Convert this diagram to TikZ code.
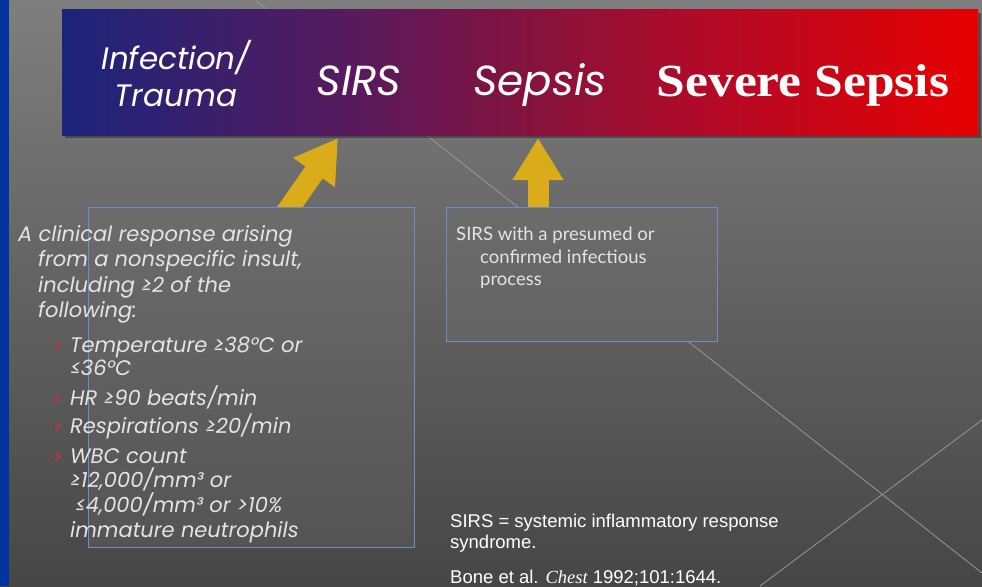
\documentclass[tikz,border=0pt]{standalone}
\usepackage{fontspec}
\usepackage{tikz}
\usetikzlibrary{arrows.meta}
\setmainfont{Liberation Sans}
\newfontfamily\gothic{Poppins}
\newfontfamily\gill{Lato}
\newfontfamily\dejavu{DejaVu Sans}
\newfontfamily\timesf{Liberation Serif}

\definecolor{bgtop}{RGB}{126,126,126}
\definecolor{bgbot}{RGB}{70,70,70}
\definecolor{stripblue}{RGB}{0,51,160}
\definecolor{bnavy}{RGB}{28,36,122}
\definecolor{bpurple}{RGB}{88,26,92}
\definecolor{bwine}{RGB}{135,18,60}
\definecolor{bcrim}{RGB}{178,10,40}
\definecolor{bred}{RGB}{230,0,0}
\definecolor{gold}{RGB}{218,172,26}
\definecolor{boxline}{RGB}{110,140,205}
\definecolor{bulletred}{RGB}{185,50,85}
\definecolor{txt}{RGB}{228,228,228}
\definecolor{diagline}{RGB}{152,152,152}
\definecolor{boxtop}{RGB}{108,108,108}
\definecolor{box1bot}{RGB}{84,84,84}
\definecolor{box2bot}{RGB}{99,99,99}

% tikz maps the path onto 25bp--75bp of the shading
\pgfdeclarehorizontalshading{bannershade}{100bp}{color(0bp)=(bnavy); color(25bp)=(bnavy);
  color(41bp)=(bpurple); color(51bp)=(bwine); color(60bp)=(bcrim);
  color(75bp)=(bred); color(100bp)=(bred)}

\tikzset{
  bgline/.style={draw=diagline, line width=0.8pt},
  bannertxt/.style={anchor=base, text=white, inner sep=0pt},
  deftxt/.style={anchor=base west, text=txt, inner sep=0pt,
    font=\gothic\itshape\fontsize{21}{24}\selectfont},
  bul/.style={anchor=base west, text=bulletred, inner sep=0pt,
    font=\dejavu\bfseries\fontsize{22}{22}\selectfont},
  sepsistxt/.style={anchor=base west, text=txt, inner sep=0pt,
    font=\gill\fontsize{18.5}{21}\selectfont},
  notetxt/.style={anchor=base west, text=white, inner sep=0pt,
    font=\fontsize{18.5}{21}\selectfont},
  defbox/.style={draw=boxline, line width=1pt, inner sep=0pt, top color=boxtop, bottom color=#1},
  goldarrow/.style={draw=gold, line width=21pt, -{Triangle[width=48pt,length=42pt]}}
}

\begin{document}
\begin{tikzpicture}[x=1pt, y=-1pt]
\useasboundingbox (0,0) rectangle (982,586);
% background
\shade[top color=bgtop, bottom color=bgbot] (0,0) rectangle (982,586);
\fill[stripblue] (0,0) rectangle (9,586);
\draw[bgline] (255,0) -- (982,573);
\draw[bgline] (982,420) -- (760,586);

% banner
\fill[black, opacity=0.35] (65,13) rectangle (981,138);
\shade[shading=bannershade] (62,10) rectangle (978,135);
\node[bannertxt, align=center, font=\gothic\itshape\fontsize{31}{36}\selectfont] (inf) at (176,106) {Infection/\\Trauma};
\node[bannertxt, font=\gothic\itshape\fontsize{42}{46}\selectfont] (sirs) at (359,95) {SIRS};
\node[bannertxt, font=\gothic\itshape\fontsize{42}{46}\selectfont] (sepsis) at (540,95) {Sepsis};
\node[bannertxt, xscale=1.12, font=\timesf\bfseries\fontsize{46}{48}\selectfont] (severe) at (803,96) {Severe Sepsis};

% arrows, their feet hidden by the boxes
\coordinate (a1s) at (283,217);
\coordinate (a1t) at (338,138);
\coordinate (a2s) at (538,217);
\coordinate (a2t) at (538,138);
\draw[goldarrow] (a1s) -- (a1t);
\draw[goldarrow] (a2s) -- (a2t);

% definition boxes
\node[defbox=box1bot, minimum width=326pt, minimum height=340pt] (box1) at (251,377) {};
\node[defbox=box2bot, minimum width=271pt, minimum height=134pt] (box2) at (581.5,274) {};

% SIRS criteria
\node[deftxt] (d1) at (18,241) {A clinical response arising};
\node[deftxt] (d2) at (38,266) {from a nonspecific insult,};
\node[deftxt] (d3) at (38,292) {including ≥2 of the};
\node[deftxt] (d4) at (38,317) {following:};
\foreach \yy in {352,405,433,463}
  \node[bul] (b\yy) at (53,\yy) {›};
\node[deftxt] (t1) at (70,352) {Temperature ≥38°C or};
\node[deftxt] (t2) at (70,375) {≤36°C};
\node[deftxt] (hr) at (70,405) {HR ≥90 beats/min};
\node[deftxt] (rr) at (70,433) {Respirations ≥20/min};
\node[deftxt] (w1) at (70,463) {WBC count};
\node[deftxt] (w2) at (70,487) {≥12,000/mm³ or};
\node[deftxt] (w3) at (75,512) {≤4,000/mm³ or >10\%};
\node[deftxt] (w4) at (70,537) {immature neutrophils};

% sepsis definition
\node[sepsistxt] (s1) at (456,240) {SIRS with a presumed or};
\node[sepsistxt] (s2) at (480,263) {confirmed infectious};
\node[sepsistxt] (s3) at (480,285) {process};

% footnote
\node[notetxt] (n1) at (450,527) {SIRS = systemic inflammatory response};
\node[notetxt] (n2) at (450,548) {syndrome.};
\node[notetxt] (n3) at (450,583) {Bone et al. {\timesf\itshape Chest} 1992;101:1644.};
\end{tikzpicture}
\end{document}
